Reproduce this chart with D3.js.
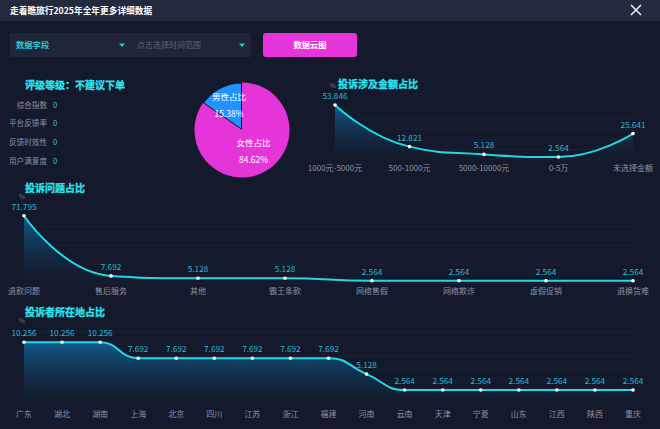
<!DOCTYPE html>
<html>
<head>
<meta charset="utf-8">
<script src="https://cdn.jsdelivr.net/npm/d3@7"></script>
<style>
  body { margin: 0; background: #141a2b; }
  svg { display: block; font-family: "Noto Sans CJK SC", "Noto Sans", sans-serif; }
</style>
</head>
<body>
<svg width="660" height="429"></svg>
<script>
// ---- data ----
const ratingRows = ["综合指数", "平台反馈率", "反馈时效性", "用户满意度"];
const ratingValues = [0, 0, 0, 0];

const genderLabels = ["男性占比", "女性占比"];
const genderValues = [15.38, 84.62];

const amountCats = ["1000元-5000元", "500-1000元", "5000-10000元", "0-5万", "未选择金额"];
const amountValues = [53.846, 12.821, 5.128, 2.564, 25.641];

const issueCats = ["退款问题", "售后服务", "其他", "霸王条款", "网络售假", "网络欺诈", "虚假促销", "退换货难"];
const issueValues = [71.795, 7.692, 5.128, 5.128, 2.564, 2.564, 2.564, 2.564];

const regionCats = ["广东", "湖北", "湖南", "上海", "北京", "四川", "江苏", "浙江", "福建", "河南",
    "云南", "天津", "宁夏", "山东", "江西", "陕西", "重庆"];
const regionValues = [10.256, 10.256, 10.256, 7.692, 7.692, 7.692, 7.692, 7.692, 7.692, 5.128,
    2.564, 2.564, 2.564, 2.564, 2.564, 2.564, 2.564];

const svg = d3.select("svg");
const cyan = "#22d8e6";

// gradient for area fills
const defs = svg.append("defs");
const grad = defs.append("linearGradient")
    .attr("id", "areaGrad").attr("x1", 0).attr("y1", 0).attr("x2", 0).attr("y2", 1);
grad.append("stop").attr("offset", "0%").attr("stop-color", "#0f5f94").attr("stop-opacity", 0.95);
grad.append("stop").attr("offset", "100%").attr("stop-color", "#141a2b").attr("stop-opacity", 0.3);

// ---- header ----
svg.append("rect").attr("width", 660).attr("height", 21).attr("fill", "#232a3d");
svg.append("text").attr("x", 10).attr("y", 14)
    .attr("fill", "#fff").attr("font-size", 8.7).attr("font-weight", "bold")
    .text("走着瞧旅行2025年全年更多详细数据");
svg.append("path").attr("d", "M631,5 L641,15 M641,5 L631,15")
    .attr("stroke", "#e8ecf5").attr("stroke-width", 1.6);

// ---- controls ----
svg.append("rect").attr("x", 10).attr("y", 33).attr("width", 241).attr("height", 24)
    .attr("fill", "#1f2638");
svg.append("text").attr("x", 16).attr("y", 48).attr("fill", "#27c9d8")
    .attr("font-size", 8.3).attr("font-weight", "bold").text("数据字段");
svg.append("text").attr("x", 137).attr("y", 48).attr("fill", "#5c6478")
    .attr("font-size", 8).text("点击选择时间范围");
[122, 242].forEach(x => {
    svg.append("path").attr("d", `M${x - 3},43.5 L${x + 3},43.5 L${x},47 Z`).attr("fill", "#27c9d8");
});
svg.append("rect").attr("x", 263).attr("y", 33).attr("width", 94).attr("height", 24).attr("rx", 3)
    .attr("fill", "#e535d8");
svg.append("text").attr("x", 310).attr("y", 48).attr("text-anchor", "middle")
    .attr("fill", "#fff").attr("font-size", 8.3).attr("font-weight", "bold").text("数据云图");

// ---- rating block ----
function title(x, y, t) {
    svg.append("text").attr("x", x).attr("y", y).attr("fill", "#2ee3ee")
        .attr("font-size", 10).attr("font-weight", "bold")
        .attr("stroke", "#2ee3ee").attr("stroke-width", 0.3).text(t);
}
title(25, 89, "评级等级：不建议下单");
ratingRows.forEach((r, i) => {
    const y = 107.5 + i * 18.8;
    svg.append("text").attr("x", 47).attr("y", y).attr("text-anchor", "end")
        .attr("fill", "#8a93a8").attr("font-size", 7.6).text(r);
    svg.append("text").attr("x", 53).attr("y", y).attr("fill", "#27c9d8")
        .attr("font-size", 7.6).text(ratingValues[i]);
});

// ---- pie ----
const pieG = svg.append("g").attr("transform", "translate(242,130)");
const pie = d3.pie().sort(null).value(d => d)
    .startAngle(0).endAngle(-2 * Math.PI);
const arcs = pie(genderValues);
const arc = d3.arc().innerRadius(0).outerRadius(47.5);
const pieColors = ["#1f93ff", "#e535d8"];
pieG.selectAll("path").data(arcs).enter().append("path")
    .attr("d", arc)
    .attr("fill", (d, i) => pieColors[i])
    .attr("stroke", "#141a2b").attr("stroke-width", (d, i) => i === 0 ? 2 : 0);
const pieLabelPos = [[-13, -30], [11.5, 16]];
arcs.forEach((a, i) => {
    const [lx, ly] = pieLabelPos[i];
    pieG.append("text").attr("x", lx).attr("y", ly).attr("text-anchor", "middle")
        .attr("fill", "#fff").attr("font-size", 8.5).text(genderLabels[i]);
    pieG.append("text").attr("x", lx).attr("y", ly + 17).attr("text-anchor", "middle")
        .attr("fill", "#fff").attr("font-size", 8.5).text(genderValues[i].toFixed(2) + "%");
});

// smooth path with clamped control points (same idea as the echarts "smooth: true" line)
function smoothPath(pts, smooth = 0.5) {
    const p = d3.path();
    let prevX, prevY, cpx0, cpy0;
    pts.forEach(([x, y], k) => {
        if (k === 0) {
            p.moveTo(x, y);
            cpx0 = x; cpy0 = y;
        } else {
            let cpx1, cpy1, nextCpx0, nextCpy0;
            if (k === pts.length - 1) {
                cpx1 = x; cpy1 = y;
            } else {
                const [nextX, nextY] = pts[k + 1];
                let vx = nextX - prevX, vy = nextY - prevY;
                const lenPrev = Math.hypot(x - prevX, y - prevY);
                const lenNext = Math.hypot(nextX - x, nextY - y);
                const ratio = lenNext / (lenNext + lenPrev);
                nextCpx0 = x + vx * smooth * ratio;
                nextCpy0 = y + vy * smooth * ratio;
                nextCpx0 = Math.max(Math.min(nextCpx0, Math.max(nextX, x)), Math.min(nextX, x));
                nextCpy0 = Math.max(Math.min(nextCpy0, Math.max(nextY, y)), Math.min(nextY, y));
                vx = nextCpx0 - x; vy = nextCpy0 - y;
                cpx1 = x - vx * lenPrev / lenNext;
                cpy1 = y - vy * lenPrev / lenNext;
                cpx1 = Math.max(Math.min(cpx1, Math.max(prevX, x)), Math.min(prevX, x));
                cpy1 = Math.max(Math.min(cpy1, Math.max(prevY, y)), Math.min(prevY, y));
                vx = x - cpx1; vy = y - cpy1;
                nextCpx0 = x + vx * lenNext / lenPrev;
                nextCpy0 = y + vy * lenNext / lenPrev;
            }
            p.bezierCurveTo(cpx0, cpy0, cpx1, cpy1, x, y);
            cpx0 = nextCpx0; cpy0 = nextCpy0;
        }
        prevX = x; prevY = y;
    });
    return p.toString();
}

// ---- line chart helper ----
function lineChart(cfg) {
    const { cats, values, x0, x1, yTop, yBottom, maxY, labelY } = cfg;
    const x = d3.scalePoint().domain(cats).range([x0, x1]);
    const y = d3.scaleLinear().domain([0, maxY]).range([yBottom, yTop]);
    const g = svg.append("g");

    // faint grid
    y.ticks(5).forEach(t => {
        g.append("line").attr("x1", x0).attr("x2", x1).attr("y1", y(t)).attr("y2", y(t))
            .attr("stroke", "#1a2234").attr("stroke-width", 1);
    });

    const data = cats.map((c, i) => ({ c, v: values[i] }));
    const pts = data.map(d => [x(d.c), y(d.v)]);
    const linePath = smoothPath(pts);
    g.append("path")
        .attr("d", linePath + `L${x1},${y(0)}L${x0},${y(0)}Z`)
        .attr("fill", "url(#areaGrad)");
    g.append("path")
        .attr("d", linePath)
        .attr("fill", "none").attr("stroke", cyan).attr("stroke-width", 2);
    g.selectAll("circle").data(data).enter().append("circle")
        .attr("cx", d => x(d.c)).attr("cy", d => y(d.v)).attr("r", 1.8)
        .attr("fill", "#fff");
    g.selectAll(".val").data(data).enter().append("text")
        .attr("x", d => x(d.c)).attr("y", d => y(d.v) - 6)
        .attr("text-anchor", "middle").attr("fill", "#2bb8d6").attr("font-size", 8.2)
        .text(d => d.v);
    g.selectAll(".cat").data(data).enter().append("text")
        .attr("x", d => x(d.c)).attr("y", labelY)
        .attr("text-anchor", "middle").attr("fill", "#8a93a8").attr("font-size", 8)
        .text(d => d.c);
    // axis unit
    g.append("text").attr("x", cfg.unitX).attr("y", cfg.unitY).attr("text-anchor", "middle")
        .attr("fill", "#6d7588").attr("font-size", 6.5).text("%");
}

title(338, 88, "投诉涉及金额占比");
lineChart({ cats: amountCats, values: amountValues, x0: 335, x1: 633,
    yTop: 98.8, yBottom: 159.6, maxY: 60, labelY: 171, unitX: 333, unitY: 88 });

title(25, 192, "投诉问题占比");
lineChart({ cats: issueCats, values: issueValues, x0: 24, x1: 633,
    yTop: 208, yBottom: 283.1, maxY: 80, labelY: 294, unitX: 22, unitY: 199 });

title(25, 316, "投诉者所在地占比");
lineChart({ cats: regionCats, values: regionValues, x0: 24, x1: 633,
    yTop: 331.5, yBottom: 405.9, maxY: 12, labelY: 417, unitX: 22, unitY: 323 });
</script>
</body>
</html>
